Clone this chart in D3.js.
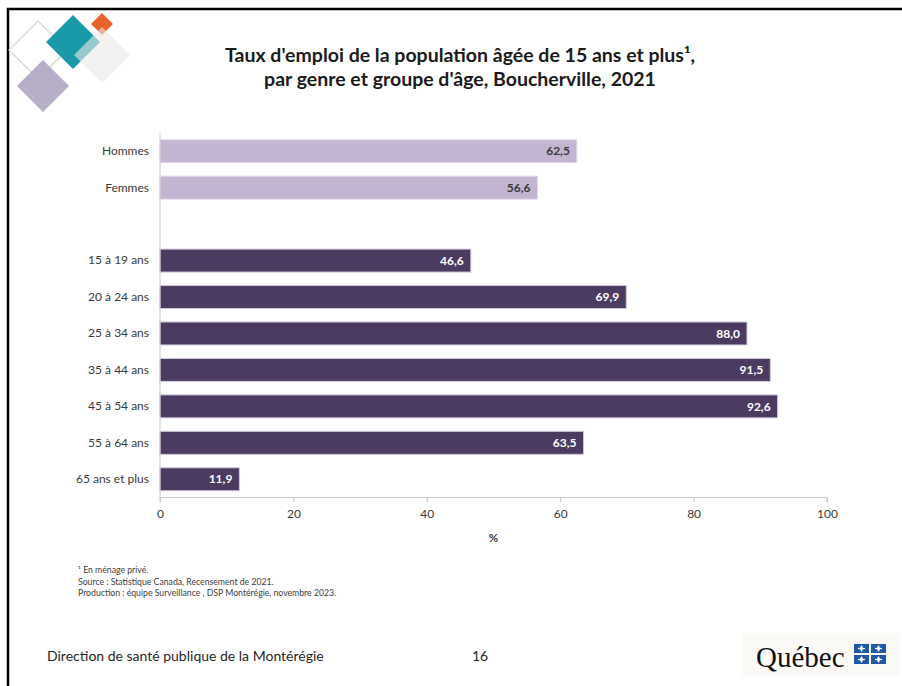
<!DOCTYPE html>
<html><head><meta charset="utf-8">
<script src="https://cdn.jsdelivr.net/npm/d3@7"></script>
<style>
html,body{margin:0;padding:0;background:#fff;}
svg{display:block;font-family:Lato,"Open Sans",sans-serif;}
</style></head>
<body>
<svg id="c" width="902" height="686"></svg>
<script>
const categories = ["Hommes","Femmes","","15 à 19 ans","20 à 24 ans","25 à 34 ans","35 à 44 ans","45 à 54 ans","55 à 64 ans","65 ans et plus"];
const values = [62.5, 56.6, null, 46.6, 69.9, 88.0, 91.5, 92.6, 63.5, 11.9];
const groups = ["genre","genre",null,"age","age","age","age","age","age","age"];
const xTicks = [0,20,40,60,80,100];
const titleLines = ["Taux d'emploi de la population âgée de 15 ans et plus¹,", "par genre et groupe d'âge, Boucherville, 2021"];
const notes = ["¹ En ménage privé.", "Source : Statistique Canada, Recensement de 2021.", "Production : équipe Surveillance , DSP Montérégie, novembre 2023."];

const svg = d3.select("#c");
const fmt = v => d3.format(".1f")(v).replace(".", ",");

// frame
svg.append("path").attr("d","M8,686 V9 H902").attr("fill","none").attr("stroke","#000").attr("stroke-width",2.5);

// decorative diamonds
const deco = svg.append("g");
function diamond(cx, cy, r, fill, stroke, op){
  deco.append("path").attr("d",`M${cx},${cy-r} L${cx+r},${cy} L${cx},${cy+r} L${cx-r},${cy} Z`)
    .attr("fill",fill).attr("stroke",stroke||"none").attr("stroke-width",1.2).attr("opacity",op==null?1:op)
    .attr("stroke-linejoin","round");
}
diamond(38,50,29,"none","#d4d9cf");
diamond(73,42,27,"#1a9aa8");
diamond(43,86,26,"#b7aec8");
diamond(102,24,11,"#e8622a");
diamond(102,55,28,"#ebe9e7",null,0.6);

// title
const title = svg.append("text").attr("x",460).attr("y",62).attr("text-anchor","middle")
  .attr("font-size",19.5).attr("font-weight","bold").attr("fill","#1a1a1a");
titleLines.forEach((t,i)=>title.append("tspan").attr("x",460).attr("dy",i?24:0).text(t));

// scales
const x = d3.scaleLinear().domain([0,100]).range([160,827]);
const y = d3.scaleBand().domain(categories.map((c,i)=>i)).range([133,497.5]).paddingInner(0.37).paddingOuter(0.185);

// bars
const data = categories.map((c,i)=>({c,i,v:values[i],g:groups[i]})).filter(d=>d.v!=null);
svg.append("g").selectAll("rect").data(data).join("rect")
  .attr("x",x(0)).attr("y",d=>y(d.i)).attr("width",d=>x(d.v)-x(0)).attr("height",y.bandwidth())
  .attr("fill",d=>d.g==="genre"?"#c3b4d2":"#4b3b61")
  .attr("stroke",d=>d.g==="genre"?"#e4dcec":"#cfc8da").attr("stroke-width",1);

svg.append("g").selectAll("text").data(data).join("text")
  .attr("x",d=>x(d.v)-7).attr("y",d=>y(d.i)+y.bandwidth()/2).attr("dy","0.35em")
  .attr("text-anchor","end").attr("font-size",12).attr("font-weight","bold")
  .attr("fill",d=>d.g==="genre"?"#3a3a3a":"#ffffff").text(d=>fmt(d.v));

// y axis labels
const yAxis = d3.axisLeft(y).tickSize(0).tickPadding(11).tickFormat(i=>categories[i]);
const gy = svg.append("g").attr("transform",`translate(${x(0)},0)`).call(yAxis);
gy.select(".domain").attr("stroke","#c8c8c8").attr("d",`M0,${y.range()[0]}V${y.range()[1]}`);
gy.selectAll("text").attr("font-size",12).attr("fill","#3a3a3a").attr("font-family","Lato,sans-serif");

// x axis
const xAxis = d3.axisBottom(x).tickValues(xTicks).tickSize(5).tickPadding(7).tickFormat(d=>d);
const gx = svg.append("g").attr("transform",`translate(0,497.5)`).call(xAxis);
gx.select(".domain").attr("stroke","#c8c8c8").attr("d",`M${x(0)},5V0H${x(100)}V5`);
gx.selectAll(".tick line").attr("stroke","#c8c8c8");
gx.selectAll("text").attr("font-size",12).attr("fill","#3a3a3a").attr("font-family","Lato,sans-serif");
svg.append("text").attr("x",x(50)).attr("y",542).attr("text-anchor","middle")
  .attr("font-size",11.5).attr("font-weight","bold").attr("fill","#3a3a3a").text("%");

// notes
notes.forEach((n,i)=>svg.append("text").attr("x",78).attr("y",573+i*11.5)
  .attr("font-size",8.7).attr("fill","#404040").text(n));

// footer
svg.append("text").attr("x",47).attr("y",661).attr("font-size",14).attr("fill","#262626")
  .text("Direction de santé publique de la Montérégie");
svg.append("text").attr("x",480).attr("y",661).attr("text-anchor","middle").attr("font-size",14).attr("fill","#262626").text("16");

// Québec logo
const logo = svg.append("g");
logo.append("rect").attr("x",742).attr("y",633).attr("width",158).attr("height",43).attr("fill","#fbfaf7");
logo.append("text").attr("x",756).attr("y",667).attr("font-family","'Liberation Serif','DejaVu Serif',serif")
  .attr("font-size",29).attr("fill","#111").text("Québec");
const fx = [854,871], fy=[644,655];
fx.forEach(a=>fy.forEach(b=>{
  logo.append("rect").attr("x",a).attr("y",b).attr("width",15).attr("height",9).attr("fill","#1f5aa6");
  const cx=a+7.5, cy=b+4.5;
  logo.append("path").attr("d",`M${cx},${cy-3.5} L${cx+2},${cy} L${cx},${cy+3.5} L${cx-2},${cy} Z`).attr("fill","#fff");
  logo.append("rect").attr("x",cx-3.5).attr("y",cy-0.6).attr("width",7).attr("height",1.2).attr("fill","#fff");
}));
</script>
</body></html>
